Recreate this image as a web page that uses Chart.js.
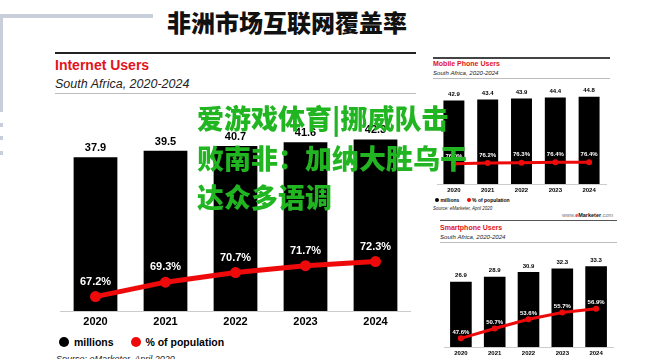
<!DOCTYPE html>
<html>
<head>
<meta charset="utf-8">
<script src="https://cdn.jsdelivr.net/npm/chart.js@4.4.0/dist/chart.umd.min.js"></script>
<style>
body { margin:0; width:660px; height:359px; overflow:hidden; background:#fff; position:relative; font-family:"Liberation Sans", Arial, sans-serif; }
.abs { position:absolute; white-space:nowrap; }
.frame { position:absolute; background:#c8cfdb; }
.red { color:#e1141c; font-weight:bold; }
.sub { font-style:italic; color:#222; }
.dot { display:inline-block; border-radius:50%; vertical-align:middle; }
.punct { display:inline-block; width:1em; }
</style>
</head>
<body>

<!-- page frame -->
<div class="frame" style="left:0;top:14px;width:153px;height:4px;"></div>
<div class="frame" style="left:0;top:14px;width:3px;height:98px;"></div>
<div class="frame" style="left:0;top:123px;width:3px;height:4px;"></div>
<div class="frame" style="left:0;top:136px;width:3px;height:4px;"></div>
<div class="frame" style="left:0;top:151px;width:3px;height:4px;"></div>

<div class="abs" style="left:167px;top:6px;font:900 24px/32px 'Noto Sans CJK SC';color:#111;">非洲市场互联网覆盖率</div>

<!-- main chart -->
<div class="abs" style="left:55px;top:52px;width:361px;height:2px;background:#222;"></div>
<div class="abs red" style="left:55px;top:56px;font-size:14px;line-height:18px;">Internet Users</div>
<div class="abs sub" style="left:55px;top:76px;font-size:12.5px;line-height:16px;">South Africa, 2020-2024</div>
<div class="abs" style="left:55px;top:93px;width:361px;height:1px;background:#bbb;"></div>
<canvas id="main" class="abs" style="left:55px;top:110px;" width="361" height="221"></canvas>
<div class="abs" style="left:59px;top:334px;font-weight:bold;font-size:10.5px;line-height:14px;">
  <span class="dot" style="width:10px;height:10px;background:#000;"></span>
  <span style="vertical-align:middle;margin-left:2px;">millions</span>
  <span class="dot" style="width:10px;height:10px;background:#ee0a0a;margin-left:14px;"></span>
  <span style="vertical-align:middle;margin-left:2px;">% of population</span>
</div>
<div class="abs sub" style="left:56px;top:354px;font-size:9px;">Source: eMarketer, April 2020</div>

<!-- mobile chart -->
<div class="abs" style="left:433px;top:57px;width:177px;height:1.5px;background:#444;"></div>
<div class="abs red" style="left:433px;top:59px;font-size:7px;line-height:9px;">Mobile Phone Users</div>
<div class="abs sub" style="left:433px;top:69px;font-size:6.1px;line-height:8px;">South Africa, 2020-2024</div>
<div class="abs" style="left:433px;top:78px;width:177px;height:1px;background:#bbb;"></div>
<canvas id="mobile" class="abs" style="left:433px;top:86px;" width="177" height="110"></canvas>
<div class="abs" style="left:435px;top:196px;font-weight:bold;font-size:5px;line-height:6px;">
  <span class="dot" style="width:4px;height:4px;background:#000;"></span>
  <span style="vertical-align:middle;">millions</span>
  <span class="dot" style="width:4px;height:4px;background:#ee0a0a;margin-left:6px;"></span>
  <span style="vertical-align:middle;">% of population</span>
</div>
<div class="abs sub" style="left:433px;top:206px;font-size:4.5px;">Source: eMarketer, April 2020</div>
<div class="abs" style="left:562px;top:212px;font-size:5.5px;color:#777;">www.<b style="color:#111;"><span style="color:#e1141c;">e</span>Marketer</b>.com</div>
<div class="abs" style="left:440px;top:220px;width:177px;height:1px;background:#555;"></div>

<!-- smartphone chart -->
<div class="abs red" style="left:440px;top:223px;font-size:7px;line-height:9px;">Smartphone Users</div>
<div class="abs sub" style="left:440px;top:233px;font-size:6.1px;line-height:8px;">South Africa, 2020-2024</div>
<div class="abs" style="left:440px;top:242px;width:177px;height:1px;background:#bbb;"></div>
<canvas id="smart" class="abs" style="left:440px;top:250px;" width="177" height="109"></canvas>

<!-- overlay caption -->
<div class="abs" style="left:197px;top:98px;font:900 27px/39.5px 'Noto Sans CJK SC';color:#21b521;">爱游戏体育|挪威队击<br>败南非<span class="punct">：</span>加纳大胜乌干<br>达众多语调</div>

<script>
var years = ['2020', '2021', '2022', '2023', '2024'];
var internetUsers = [37.9, 39.5, 40.7, 41.6, 42.3];
var internetPct = [67.2, 69.3, 70.7, 71.7, 72.3];
var mobileUsers = [42.9, 43.4, 43.9, 44.4, 44.8];
var mobilePct = [76.0, 76.2, 76.3, 76.4, 76.4];
var smartUsers = [26.9, 28.9, 30.9, 32.3, 33.3];
var smartPct = [47.6, 50.7, 53.6, 55.7, 56.9];

// writes the value over each bar and the % over each point
var valueLabels = {
	id: 'valueLabels',
	afterDatasetsDraw: function(chart, args, opts)
	{
		var ctx = chart.ctx;
		ctx.save();
		ctx.textAlign = 'center';
		ctx.textBaseline = 'middle';
		chart.data.datasets.forEach(function(ds, i)
		{
			chart.getDatasetMeta(i).data.forEach(function(el, j)
			{
				if (ds.type === 'line') {
					ctx.font = opts.lineFont;
					ctx.fillStyle = '#fff';
					ctx.fillText(ds.data[j].toFixed(1) + '%', el.x, el.y - opts.lineOffset);
				} else {
					ctx.font = opts.barFont;
					ctx.fillStyle = '#000';
					ctx.fillText(ds.data[j].toFixed(1), el.x, el.y - opts.barOffset);
				}
			});
		});
		ctx.restore();
	}
};

function usersChart(id, bars, pct, s)
{
	return new Chart(document.getElementById(id),
	{
		type: 'bar',
		data:
		{
			labels: years,
			datasets:
			[{
				label: 'millions',
				data: bars,
				backgroundColor: '#000',
				barPercentage: 1,
				categoryPercentage: s.barShare,
				order: 2
			},
			{
				label: '% of population',
				type: 'line',
				data: pct,
				yAxisID: 'y1',
				borderColor: '#ee0a0a',
				backgroundColor: '#ee0a0a',
				borderWidth: s.lineWidth,
				pointRadius: s.pointRadius,
				pointBorderWidth: 0,
				fill: false,
				order: 1
			}]
		},
		options:
		{
			responsive: false,
			animation: false,
			layout: { padding: 0 },
			scales:
			{
				x: {
					grid: { display: false, drawTicks: false },
					border: { color: '#ccc' },
					ticks: { color: '#000', padding: s.tickPad, font: { family: 'Liberation Sans', weight: 'bold', size: s.tickSize } },
					afterFit: function(scale) { scale.height = s.axisHeight; }
				},
				y: { display: false, min: 0, max: s.barMax },
				y1: { display: false, position: 'right', min: s.pctMin, max: s.pctMax }
			},
			plugins:
			{
				legend: { display: false },
				tooltip: { enabled: false },
				valueLabels: {
					barFont: 'bold ' + s.labelSize + 'px "Liberation Sans"',
					lineFont: 'bold ' + s.labelSize + 'px "Liberation Sans"',
					barOffset: s.barOffset,
					lineOffset: s.lineOffset
				}
			}
		},
		plugins: [valueLabels]
	});
}

usersChart('main', internetUsers, internetPct, {
	barShare: 0.625, lineWidth: 5, pointRadius: 5.5, tickPad: 4, tickSize: 11, axisHeight: 20,
	barMax: 48.2, pctMin: 65.1, pctMax: 93.57, labelSize: 11, barOffset: 9, lineOffset: 15
});
usersChart('mobile', mobileUsers, mobilePct, {
	barShare: 0.62, lineWidth: 3, pointRadius: 3, tickPad: 3, tickSize: 6, axisHeight: 12,
	barMax: 48.3, pctMin: 70.75, pctMax: 95.25, labelSize: 6, barOffset: 6, lineOffset: 8
});
usersChart('smart', smartUsers, smartPct, {
	barShare: 0.64, lineWidth: 3, pointRadius: 3, tickPad: 3, tickSize: 6, axisHeight: 12,
	barMax: 38.3, pctMin: 44.9, pctMax: 74.0, labelSize: 6, barOffset: 6, lineOffset: 6
});
</script>
</body>
</html>
